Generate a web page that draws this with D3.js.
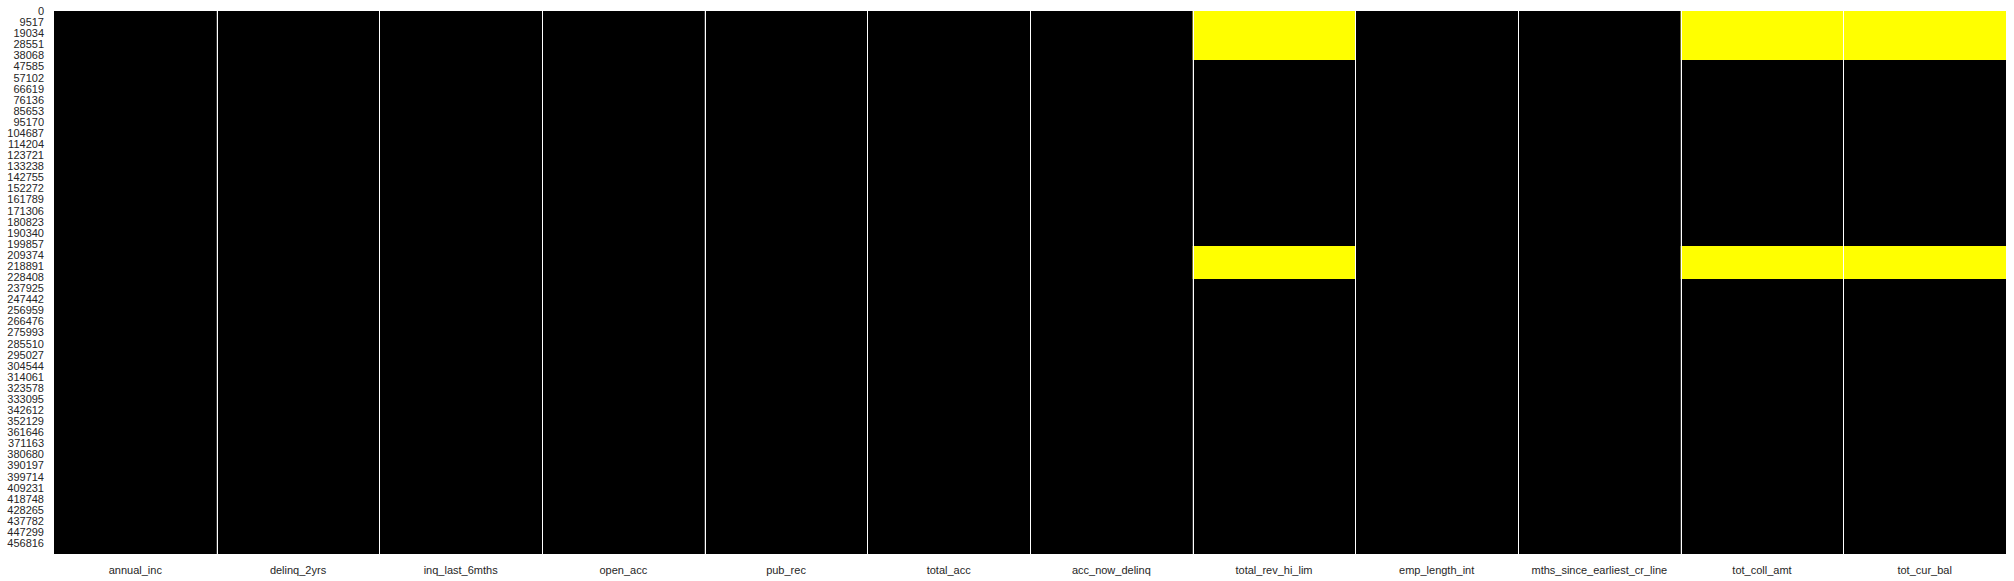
<!DOCTYPE html>
<html>
<head>
<meta charset="utf-8">
<script src="https://cdn.jsdelivr.net/npm/d3@7"></script>
<style>
  html, body { margin: 0; padding: 0; background: #ffffff; }
  svg { display: block; }
  text { font-family: "Liberation Sans", Arial, sans-serif; }
</style>
</head>
<body>
<svg id="chart" width="2014" height="581"></svg>
<script>
// ---- data ----
const columns = ["annual_inc", "delinq_2yrs", "inq_last_6mths", "open_acc", "pub_rec",
  "total_acc", "acc_now_delinq", "total_rev_hi_lim", "emp_length_int",
  "mths_since_earliest_cr_line", "tot_coll_amt", "tot_cur_bal"];
const nRows = 466285;
const yTickLabels = [0, 9517, 19034, 28551, 38068, 47585, 57102, 66619, 76136, 85653,
  95170, 104687, 114204, 123721, 133238, 142755, 152272, 161789, 171306, 180823,
  190340, 199857, 209374, 218891, 228408, 237925, 247442, 256959, 266476, 275993,
  285510, 295027, 304544, 314061, 323578, 333095, 342612, 352129, 361646, 371163,
  380680, 390197, 399714, 409231, 418748, 428265, 437782, 447299, 456816];
// columns with missing values and the missing row ranges (row index start/end)
const missingColumns = ["total_rev_hi_lim", "tot_coll_amt", "tot_cur_bal"];
const missingStart = [0, 201800];
const missingEnd = [42080, 230140];

// ---- layout ----
(function () {
const svg = d3.select("#chart");
const mLeft = 54, mRight = 2006, mTop = 11, mBottom = 554;
const x = d3.scaleBand().domain(columns).range([mLeft, mRight]).paddingInner(0).paddingOuter(0);
const y = d3.scaleLinear().domain([0, nRows]).range([mTop, mBottom]);

const presentColor = "#000000";
const missingColor = "#ffff00";

// present (base) cells
svg.append("g").selectAll("rect").data(columns).join("rect")
  .attr("x", d => x(d))
  .attr("y", y(0))
  .attr("width", x.bandwidth())
  .attr("height", y(nRows) - y(0))
  .attr("fill", presentColor);

// missing segments
const segs = [];
missingColumns.forEach(c => {
  missingStart.forEach((s, i) => segs.push({ col: c, s: s, e: missingEnd[i] }));
});
svg.append("g").selectAll("rect").data(segs).join("rect")
  .attr("x", d => x(d.col))
  .attr("y", d => y(d.s))
  .attr("width", x.bandwidth())
  .attr("height", d => y(d.e) - y(d.s))
  .attr("fill", missingColor);

// white column separators
svg.append("g").selectAll("line").data(columns.slice(1)).join("line")
  .attr("x1", d => Math.round(x(d)) + 0.5)
  .attr("x2", d => Math.round(x(d)) + 0.5)
  .attr("y1", mTop)
  .attr("y2", mBottom)
  .attr("stroke", "#ffffff")
  .attr("stroke-width", 1);

// y axis
const yAxis = d3.axisLeft(y)
  .tickValues(yTickLabels.map(v => v + 0.5))
  .tickFormat((d, i) => String(yTickLabels[i]))
  .tickSize(0)
  .tickPadding(10);
const gy = svg.append("g").attr("transform", `translate(${mLeft},0)`).call(yAxis);
gy.select(".domain").remove();
gy.selectAll("text").attr("font-size", 11).attr("fill", "#262626")
  .attr("font-family", "'Liberation Sans', Arial, sans-serif");

// x axis
const xAxis = d3.axisBottom(x).tickSize(0).tickPadding(12);
const gx = svg.append("g").attr("transform", `translate(0,${mBottom})`).call(xAxis);
gx.select(".domain").remove();
gx.selectAll("text").attr("font-size", 11).attr("fill", "#262626")
  .attr("font-family", "'Liberation Sans', Arial, sans-serif");
})();
</script>
</body>
</html>
